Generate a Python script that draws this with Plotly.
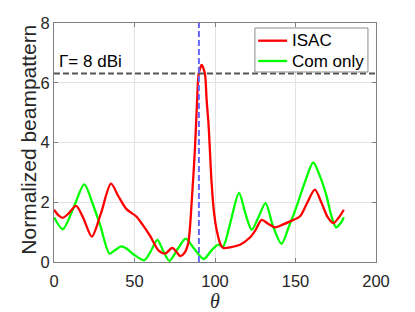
import plotly.graph_objects as go

# ---------------- data ----------------
theta_isac = [0, 3, 5.5, 9, 13.7, 18, 23.5, 29, 35.4, 40, 45, 51, 55, 59.6, 65, 69, 73.5,
              78.5, 81, 83.4, 85.5, 87.5, 88.9, 89.9, 91.7, 93.7, 94.8, 96, 97.9, 99.5,
              101, 103.5, 105.2, 110, 115.5, 121.7, 125, 129, 133, 137.3, 142, 146.6,
              152.8, 157, 162, 166, 170, 173.5, 177, 180]
isac = [1.75, 1.55, 1.48, 1.62, 1.88, 1.5, 0.85, 1.6, 2.62, 2.2, 1.77, 1.53, 1.25, 0.88,
        0.38, 0.28, 0.47, 0.2, 0.3, 0.64, 2.0, 3.75, 5.42, 6.31, 6.6, 6.31, 5.42, 4.6,
        2.64, 1.6, 1.08, 0.58, 0.47, 0.5, 0.58, 0.82, 1.05, 1.41, 1.28, 1.16, 1.25,
        1.36, 1.53, 1.95, 2.42, 2.0, 1.5, 1.3, 1.5, 1.75]

theta_com = [0, 5.5, 12, 18.8, 24, 28.6, 34.5, 38, 41.8, 45, 49.3, 56, 60, 64.2, 68, 71.6,
             77, 81.8, 87, 93, 98, 102, 105, 109, 114.9, 119, 122.8, 127, 131.4, 136,
             141.3, 146, 150.7, 156, 161, 165, 169.4, 172, 175.2, 178, 180]
com_only = [1.5, 1.1, 1.8, 2.6, 1.95, 1.25, 0.28, 0.4, 0.52, 0.45, 0.26, 0.06, 0.35, 0.74,
            0.35, 0.04, 0.45, 0.78, 0.45, 0.1, 0.4, 0.58, 0.52, 1.2, 2.31, 1.6, 1.08, 1.5,
            1.97, 1.2, 0.61, 1.2, 1.86, 2.7, 3.33, 2.9, 2.19, 1.6, 1.16, 1.3, 1.5]

series_names = ["ISAC", "Com only"]
series_colors = ["#ff0000", "#00ff00"]

gamma_dbi = 8
gamma_lin = 10 ** (gamma_dbi / 10)
target_theta = 90

x_ticks = [0, 50, 100, 150, 200]
y_ticks = [0, 2, 4, 6, 8]

FONT = "Liberation Sans, Arial, Helvetica, sans-serif"
TXT = "#262626"

fig = go.Figure()
fig.add_trace(go.Scatter(x=theta_com, y=com_only, mode="lines", name=series_names[1],
                         showlegend=False,
                         line=dict(color=series_colors[1], width=2.3, shape="spline", smoothing=0.8)))
fig.add_trace(go.Scatter(x=theta_isac, y=isac, mode="lines", name=series_names[0],
                         showlegend=False,
                         line=dict(color=series_colors[0], width=2.3, shape="spline", smoothing=0.8)))

fig.add_shape(type="line", xref="x", yref="y", x0=0, x1=200, y0=gamma_lin, y1=gamma_lin,
              line=dict(color="#555555", width=2, dash="6px,3px"))
fig.add_shape(type="line", xref="x", yref="y", x0=target_theta, x1=target_theta, y0=0, y1=8,
              line=dict(color="#6666ff", width=2, dash="6px,3px"))

fig.add_annotation(x=2, y=6.71, xref="x", yref="y", text="Γ= 8 dBi", showarrow=False,
                   xanchor="left", yanchor="middle", font=dict(family=FONT, size=17, color="#000"))

# axis titles
fig.add_annotation(x=0.5, y=-0.163, xref="paper", yref="paper", text="<i>θ</i>", showarrow=False,
                   xanchor="center", yanchor="middle",
                   font=dict(family="Liberation Serif, serif", size=20, color=TXT))
fig.add_annotation(x=-0.0776, y=0.512, xref="paper", yref="paper", text="Normalized beampattern",
                   showarrow=False, textangle=-90, xanchor="center", yanchor="middle",
                   font=dict(family=FONT, size=21, color=TXT))

# legend box (MATLAB-style)
lx0, lx1, ly0, ly1 = 0.624, 0.975, 0.795, 0.979
fig.add_shape(type="rect", xref="paper", yref="paper", x0=lx0, x1=lx1, y0=ly0, y1=ly1,
              line=dict(color="#8c8c8c", width=1), fillcolor="white", layer="above")
for i, (nm, col) in enumerate(zip(series_names, series_colors)):
    yy = [0.926, 0.841][i]
    fig.add_shape(type="line", xref="paper", yref="paper", x0=0.634, x1=0.724, y0=yy, y1=yy,
                  line=dict(color=col, width=2.3), layer="above")
    fig.add_annotation(x=0.733, y=yy, xref="paper", yref="paper", text=nm, showarrow=False,
                       xanchor="left", yanchor="middle",
                       font=dict(family=FONT, size=17, color="#000"))

axis_common = dict(showgrid=True, gridcolor="#e3e3e3", gridwidth=1, zeroline=False,
                   showline=True, linecolor="#808080", linewidth=1, mirror="ticks",
                   ticks="inside", ticklen=4, tickcolor="#808080", automargin=False,
                   tickfont=dict(family=FONT, size=16.5, color=TXT))

fig.update_xaxes(range=[0, 200], tickvals=x_ticks, ticktext=[str(v) for v in x_ticks],
                 ticklabelstandoff=4, **axis_common)
fig.update_yaxes(range=[0, 8], tickvals=y_ticks, ticktext=[str(v) for v in y_ticks],
                 **axis_common)

fig.update_layout(
    width=415, height=312,
    margin=dict(l=54, r=39, t=23, b=50),
    plot_bgcolor="white", paper_bgcolor="white",
    showlegend=False,
)

fig.write_html("out.html", config={"displayModeBar": False},
               post_script="document.body.style.margin='0';document.body.style.padding='0';"
                           "document.body.style.overflow='hidden';")
